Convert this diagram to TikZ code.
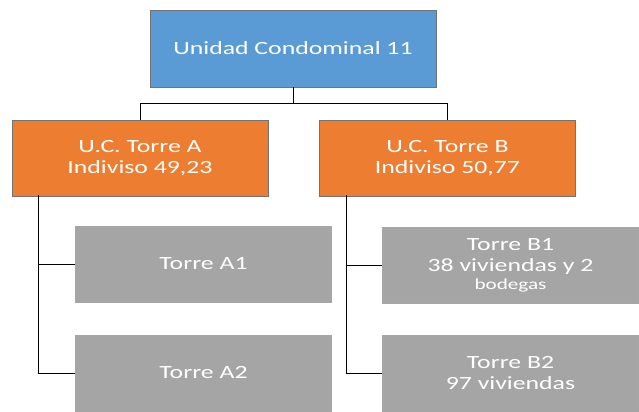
\documentclass[tikz,border=0pt]{standalone}
\usepackage{fontspec}
\setmainfont{Carlito}[FakeStretch=1.38]
\usepackage{tikz}
\usetikzlibrary{positioning}

\definecolor{ucblue}{RGB}{91,155,213}
\definecolor{ucorange}{RGB}{237,125,49}
\definecolor{ucgray}{RGB}{165,165,165}

\tikzset{
  caja/.style={rectangle, draw=black!55, line width=0.5pt, text=white, align=center,
    inner sep=0pt, font=\fontsize{14}{16}\selectfont},
  principal/.style={caja, fill=ucblue, minimum width=214.5pt, minimum height=57.75pt},
  unidad/.style={caja, fill=ucorange, minimum width=192pt, minimum height=57pt},
  torre/.style={caja, fill=ucgray, draw=black!35, minimum width=192pt, minimum height=57pt},
  rama/.style={draw=black, line width=0.6pt}
}

\begin{document}
\begin{tikzpicture}[x=0.75pt,y=-0.75pt]
\useasboundingbox (0,0) rectangle (639,411);

% raiz y unidades condominales
\node[principal] (UC) at (293,48.5) {Unidad Condominal 11};
\node[unidad] (UCA) at (140,158) {U.C. Torre A\\Indiviso 49,23};
\node[unidad] (UCB) at (447.5,158) {U.C. Torre B\\Indiviso 50,77};

% torres
\node[torre] (A1) at (203.5,264) {Torre A1};
\node[torre] (A2) at (203.5,373) {Torre A2};
\node[torre] (B1) at (510.5,265) {Torre B1\\38 viviendas y 2\\[-3pt]{\fontsize{11.5}{12}\selectfont bodegas}};
\node[torre] (B2) at (510.5,373) {Torre B2\\97 viviendas};

% conectores
\coordinate (cruce) at (293,103);
\draw[rama] (UC.south) -- (cruce);
\draw[rama] (cruce) -| (UCA.north);
\draw[rama] (cruce) -| (UCB.north);

\coordinate (troncoA) at (38,195);
\coordinate (troncoB) at (346,195);
\draw[rama] (troncoA) |- (A2.west);
\draw[rama] (troncoA |- A1.west) -- (A1.west);
\draw[rama] (troncoB) |- (B2.west);
\draw[rama] (troncoB |- B1.west) -- (B1.west);
\end{tikzpicture}
\end{document}
